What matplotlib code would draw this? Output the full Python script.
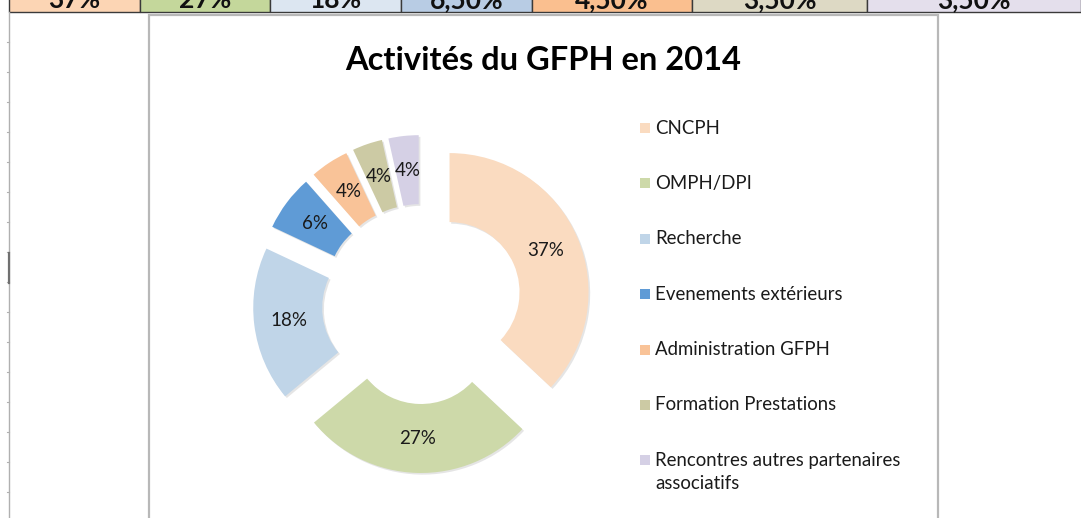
import matplotlib
matplotlib.use("Agg")
import matplotlib.pyplot as plt
from matplotlib.patches import Rectangle
import matplotlib.patheffects as pe

# ---------------- data ----------------
title = "Activités du GFPH en 2014"
categories = ["CNCPH", "OMPH/DPI", "Recherche", "Evenements extérieurs",
              "Administration GFPH", "Formation Prestations",
              "Rencontres autres partenaires\nassociatifs"]
shares = [37, 27, 18, 6.5, 4.5, 3.5, 3.5]
slice_colors = ["#FADBC0", "#CDD9A9", "#C0D5E8", "#5F9BD6",
                "#F9C398", "#CCCAA4", "#D5D0E5"]

header_labels = ["37%", "27%", "18%", "6,50%", "4,50%", "3,50%", "3,50%"]
header_colors = ["#FCD5B4", "#C4D79B", "#DCE6F1", "#B8CCE4",
                 "#FABF8F", "#DDD9C4", "#E4DFEC"]

# ---------------- layout (pixels) ----------------
W, H = 1081, 518
header_edges = [9, 140, 270, 401, 532, 692, 867, 1081]
header_bottom = 12
frame_left, frame_right, frame_top = 149, 938, 15
pie_center = (422, 304)
pie_radius = 139
ring_width = 69
explode_px = 30
legend_x, legend_y0, legend_step = 640, 128, 55.4

plt.rcParams['font.family'] = ['Lato', 'DejaVu Sans']


def Y(py):
    return H - py


fig = plt.figure(figsize=(W / 100, H / 100), dpi=100)
ax = fig.add_axes([0, 0, 1, 1])

# spreadsheet header row (cut at top)
for i, (lab, col) in enumerate(zip(header_labels, header_colors)):
    x0, x1 = header_edges[i], header_edges[i + 1]
    ax.add_patch(Rectangle((x0, Y(header_bottom)), x1 - x0, 30,
                           facecolor=col, edgecolor='#3A3A3A', lw=1.0, zorder=1))
    ax.text((x0 + x1) / 2, Y(8.5), lab, ha='center', va='baseline',
            fontsize=19, fontweight='bold', color='#111111', zorder=2)

# left grid line of the sheet
ax.plot([9, 9], [Y(header_bottom), Y(H)], color='#B0B0B0', lw=1.0, zorder=1)
for py in range(42, 500, 30):
    ax.plot([7, 9], [Y(py), Y(py)], color='#B0B0B0', lw=0.8, zorder=1)
ax.plot([9, 9], [Y(253), Y(283)], color='#707070', lw=1.6, zorder=1)

# chart frame
ax.plot([frame_left, frame_left, frame_right, frame_right],
        [Y(H + 5), Y(frame_top), Y(frame_top), Y(H + 5)],
        color='#B8B8B8', lw=1.6, zorder=1, solid_joinstyle='miter')

# title
ax.text((frame_left + frame_right) / 2, Y(60), title, ha='center', va='center',
        fontsize=23.5, fontweight='bold', color='#000000')

# exploded doughnut
wedges, texts, autotexts = ax.pie(
    shares, colors=slice_colors, startangle=90, counterclock=False,
    radius=pie_radius, center=(pie_center[0], Y(pie_center[1])),
    explode=[explode_px] * len(shares),
    wedgeprops=dict(width=ring_width, edgecolor='none'),
    autopct='%.0f%%', pctdistance=0.75,
    textprops=dict(fontsize=13.5, color='#1A1A1A'), frame=True)
for w in wedges:
    w.set_path_effects([pe.SimplePatchShadow(offset=(1.2, -1.2), alpha=0.15,
                                             shadow_rgbFace='#555555'),
                        pe.Normal()])

# legend
for i, (lab, col) in enumerate(zip(categories, slice_colors)):
    py = legend_y0 + i * legend_step
    ax.add_patch(Rectangle((legend_x, Y(py) - 5), 10, 10, facecolor=col,
                           edgecolor='none'))
    if '\n' in lab:
        ax.text(legend_x + 15, Y(py - 8), lab, ha='left', va='top',
                fontsize=13.4, color='#1A1A1A', linespacing=1.4)
    else:
        ax.text(legend_x + 15, Y(py), lab, ha='left', va='center',
                fontsize=13.4, color='#1A1A1A')

ax.set_xlim(0, W)
ax.set_ylim(0, H)
ax.axis('off')

fig.savefig('out.png', dpi=100)
